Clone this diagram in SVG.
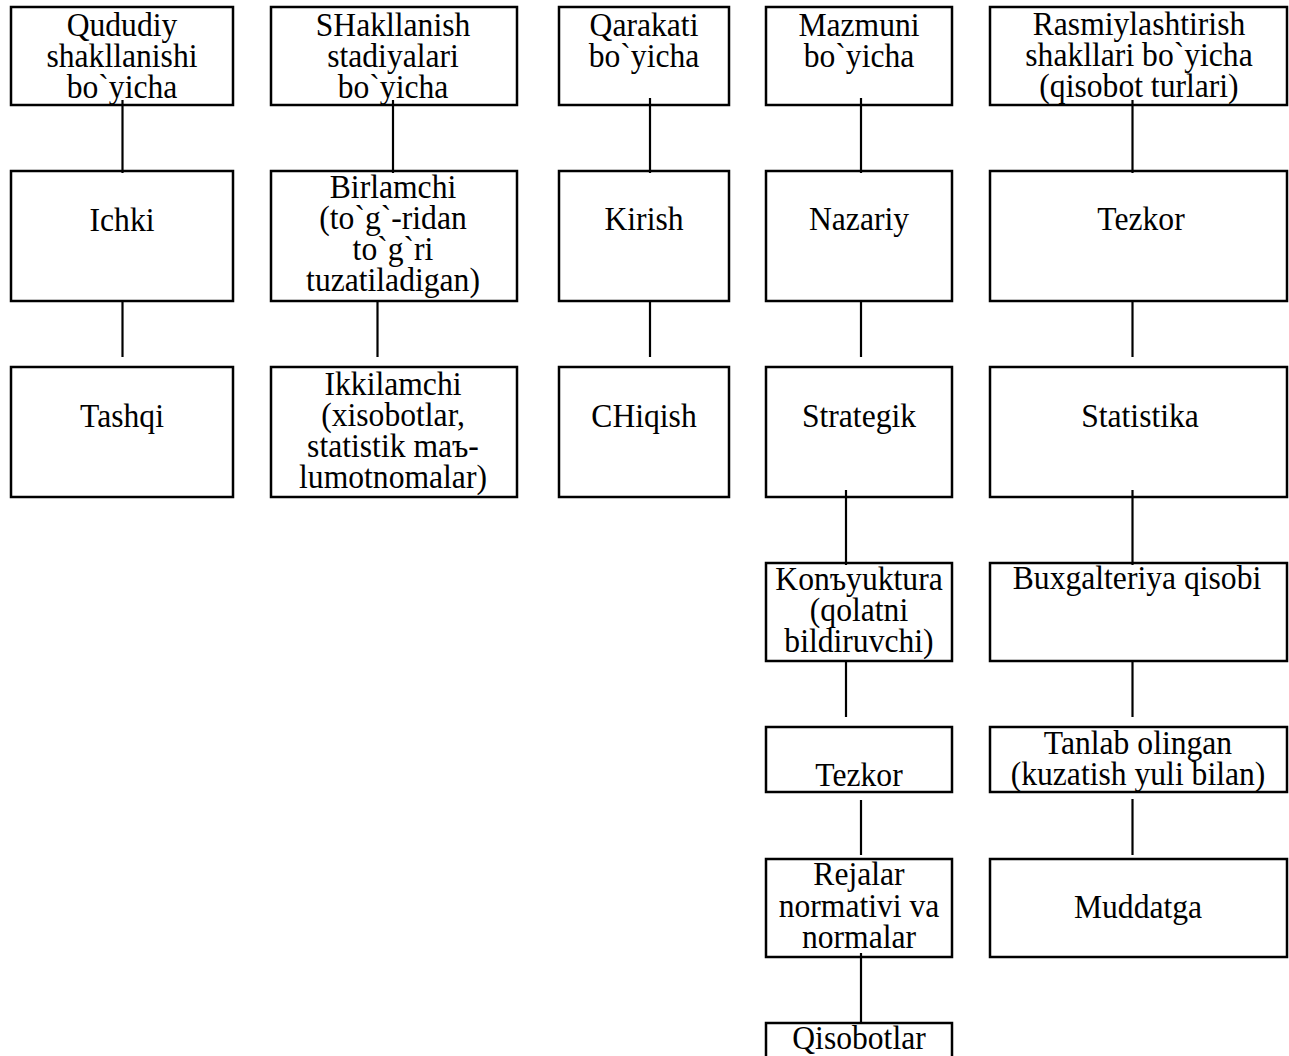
<svg xmlns="http://www.w3.org/2000/svg" width="1289" height="1056" viewBox="0 0 1289 1056">
<style>
.b{fill:#fff;stroke:#000;stroke-width:2.5}
.c line{stroke:#000;stroke-width:2.2}
.t{font-family:"Liberation Serif","Times New Roman",serif;font-size:34px;text-anchor:middle;fill:#000}
</style>
<rect width="1289" height="1056" fill="#fff"/>
<g id="n1"><rect class="b" x="11" y="7" width="222" height="98"/>
<text class="t" transform="matrix(0.93 0 0 1 122 0)"><tspan x="0" y="36">Qududiy</tspan><tspan x="0" y="67">shakllanishi</tspan><tspan x="0" y="98">bo`yicha</tspan></text></g>
<g id="n2"><rect class="b" x="271" y="7" width="246" height="98"/>
<text class="t" transform="matrix(0.93 0 0 1 393 0)"><tspan x="0" y="36">SHakllanish</tspan><tspan x="0" y="67">stadiyalari</tspan><tspan x="0" y="98">bo`yicha</tspan></text></g>
<g id="n3"><rect class="b" x="559" y="7" width="170" height="98"/>
<text class="t" transform="matrix(0.93 0 0 1 644 0)"><tspan x="0" y="36">Qarakati</tspan><tspan x="0" y="67">bo`yicha</tspan></text></g>
<g id="n4"><rect class="b" x="766" y="7" width="186" height="98"/>
<text class="t" transform="matrix(0.93 0 0 1 859 0)"><tspan x="0" y="36">Mazmuni</tspan><tspan x="0" y="67">bo`yicha</tspan></text></g>
<g id="n5"><rect class="b" x="990" y="7" width="297" height="98"/>
<text class="t" transform="matrix(0.93 0 0 1 1139 0)"><tspan x="0" y="35">Rasmiylashtirish</tspan><tspan x="0" y="66">shakllari bo`yicha</tspan><tspan x="0" y="97">(qisobot turlari)</tspan></text></g>

<g id="n6"><rect class="b" x="11" y="171" width="222" height="130"/>
<text class="t" transform="matrix(0.93 0 0 1 122 0)" x="0" y="231">Ichki</text></g>
<g id="n7"><rect class="b" x="271" y="171" width="246" height="130"/>
<text class="t" transform="matrix(0.93 0 0 1 393 0)"><tspan x="0" y="198">Birlamchi</tspan><tspan x="0" y="229">(to`g`-ridan</tspan><tspan x="0" y="260">to`g`ri</tspan><tspan x="0" y="291">tuzatiladigan)</tspan></text></g>
<g id="n8"><rect class="b" x="559" y="171" width="170" height="130"/>
<text class="t" transform="matrix(0.93 0 0 1 644 0)" x="0" y="230">Kirish</text></g>
<g id="n9"><rect class="b" x="766" y="171" width="186" height="130"/>
<text class="t" transform="matrix(0.93 0 0 1 859 0)" x="0" y="230">Nazariy</text></g>
<g id="n10"><rect class="b" x="990" y="171" width="297" height="130"/>
<text class="t" transform="matrix(0.93 0 0 1 1141 0)" x="0" y="230">Tezkor</text></g>

<g id="n11"><rect class="b" x="11" y="367" width="222" height="130"/>
<text class="t" transform="matrix(0.93 0 0 1 122 0)" x="0" y="427">Tashqi</text></g>
<g id="n12"><rect class="b" x="271" y="367" width="246" height="130"/>
<text class="t" transform="matrix(0.93 0 0 1 393 0)"><tspan x="0" y="395">Ikkilamchi</tspan><tspan x="0" y="426">(xisobotlar,</tspan><tspan x="0" y="457">statistik maъ-</tspan><tspan x="0" y="488">lumotnomalar)</tspan></text></g>
<g id="n13"><rect class="b" x="559" y="367" width="170" height="130"/>
<text class="t" transform="matrix(0.93 0 0 1 644 0)" x="0" y="427">CHiqish</text></g>
<g id="n14"><rect class="b" x="766" y="367" width="186" height="130"/>
<text class="t" transform="matrix(0.93 0 0 1 859 0)" x="0" y="427">Strategik</text></g>
<g id="n15"><rect class="b" x="990" y="367" width="297" height="130"/>
<text class="t" transform="matrix(0.93 0 0 1 1140 0)" x="0" y="427">Statistika</text></g>

<g id="n16"><rect class="b" x="766" y="563" width="186" height="98"/>
<text class="t" transform="matrix(0.93 0 0 1 859 0)"><tspan x="0" y="590">Konъyuktura</tspan><tspan x="0" y="621">(qolatni</tspan><tspan x="0" y="652">bildiruvchi)</tspan></text></g>
<g id="n17"><rect class="b" x="990" y="563" width="297" height="98"/>
<text class="t" transform="matrix(0.93 0 0 1 1137 0)" x="0" y="589">Buxgalteriya qisobi</text></g>

<g id="n18"><rect class="b" x="766" y="727" width="186" height="65"/>
<text class="t" transform="matrix(0.93 0 0 1 859 0)" x="0" y="786">Tezkor</text></g>
<g id="n19"><rect class="b" x="990" y="727" width="297" height="65"/>
<text class="t" transform="matrix(0.93 0 0 1 1138 0)"><tspan x="0" y="754">Tanlab olingan</tspan><tspan x="0" y="785">(kuzatish yuli bilan)</tspan></text></g>

<g id="n20"><rect class="b" x="766" y="859" width="186" height="98"/>
<text class="t" transform="matrix(0.93 0 0 1 859 0)"><tspan x="0" y="885">Rejalar</tspan><tspan x="0" y="917">normativi va</tspan><tspan x="0" y="948">normalar</tspan></text></g>
<g id="n21"><rect class="b" x="990" y="859" width="297" height="98"/>
<text class="t" transform="matrix(0.93 0 0 1 1138 0)" x="0" y="918">Muddatga</text></g>

<g id="n22"><rect class="b" x="766" y="1023" width="186" height="60"/>
<text class="t" transform="matrix(0.93 0 0 1 859 0)" x="0" y="1049">Qisobotlar</text></g>

<g id="connectors" class="c">
<line x1="122.5" y1="100" x2="122.5" y2="173"/>
<line x1="122.5" y1="301" x2="122.5" y2="357"/>
<line x1="393" y1="100" x2="393" y2="173"/>
<line x1="377.5" y1="301" x2="377.5" y2="357"/>
<line x1="650" y1="98" x2="650" y2="173"/>
<line x1="650" y1="301" x2="650" y2="357"/>
<line x1="861" y1="98" x2="861" y2="173"/>
<line x1="861" y1="301" x2="861" y2="357"/>
<line x1="846" y1="490" x2="846" y2="565"/>
<line x1="846" y1="661" x2="846" y2="717"/>
<line x1="861" y1="800" x2="861" y2="855"/>
<line x1="861" y1="953" x2="861" y2="1024"/>
<line x1="1132.5" y1="100" x2="1132.5" y2="173"/>
<line x1="1132.5" y1="301" x2="1132.5" y2="357"/>
<line x1="1132.5" y1="490" x2="1132.5" y2="565"/>
<line x1="1132.5" y1="661" x2="1132.5" y2="717"/>
<line x1="1132.5" y1="799" x2="1132.5" y2="855"/>
</g>
</svg>
